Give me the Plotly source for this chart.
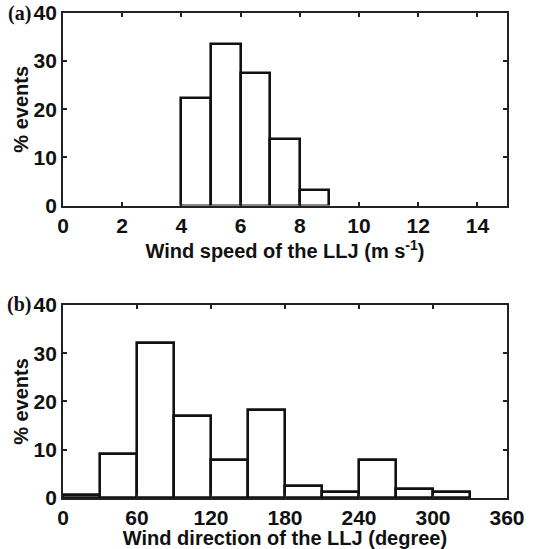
import plotly.graph_objects as go
from plotly.subplots import make_subplots

# Panel (a): wind speed bins (m/s)
speed_bin_left = [4, 5, 6, 7, 8]
speed_pct = [22.3, 33.5, 27.6, 13.9, 3.3]

# Panel (b): wind direction bins (degree)
dir_bin_left = [0, 30, 60, 90, 120, 150, 180, 210, 240, 270, 300]
dir_pct = [0.7, 9.1, 32.2, 17.0, 7.8, 18.3, 2.5, 1.2, 7.8, 1.8, 1.25]

fig = make_subplots(rows=2, cols=1, vertical_spacing=0.2)

bar_style = dict(marker=dict(color="white", line=dict(color="#111111", width=2.6)),
                 showlegend=False, hoverinfo="skip")

fig.add_trace(go.Bar(x=[v + 0.5 for v in speed_bin_left], y=speed_pct, width=1.0, **bar_style), row=1, col=1)
fig.add_trace(go.Bar(x=[v + 15 for v in dir_bin_left], y=dir_pct, width=30, **bar_style), row=2, col=1)

FAM = "Liberation Sans, Arial, sans-serif"
font_tick = dict(family=FAM, size=21, color="#111111", weight="bold")
font_title = dict(family=FAM, size=20, color="#111111", weight="bold")

axis_common = dict(showline=True, linecolor="#222222", linewidth=1.8, mirror="ticks",
                   ticks="inside", ticklen=4, tickwidth=1.5, tickcolor="#222222",
                   showgrid=False, zeroline=False, tickfont=font_tick, automargin=False)

fig.update_xaxes(range=[0, 15], tickvals=[0, 2, 4, 6, 8, 10, 12, 14],
                 title=dict(text="Wind speed of the LLJ (m s<sup>-1</sup>)", font=font_title, standoff=2),
                 **axis_common, row=1, col=1)
fig.update_xaxes(range=[0, 360], tickvals=[0, 60, 120, 180, 240, 300, 360],
                 title=dict(text="Wind direction of the LLJ (degree)", font=font_title, standoff=0),
                 **axis_common, row=2, col=1)
for r in (1, 2):
    fig.update_yaxes(range=[0, 40], tickvals=[0, 10, 20, 30, 40],
                     title=dict(text="% events", font=font_title, standoff=0),
                     **axis_common, row=r, col=1)

fig.update_layout(
    width=549, height=549,
    margin=dict(l=63, r=42, t=13, b=51, autoexpand=False),
    plot_bgcolor="white", paper_bgcolor="white",
    bargap=0,
    font=dict(family=FAM, size=20, color="#111111"),
)
fig.update_layout(yaxis=dict(domain=[0.603, 1.0]), yaxis2=dict(domain=[0.0, 0.398]))

for label, yv in (("(a)", 1.0), ("(b)", 0.398)):
    fig.add_annotation(text=label, xref="paper", yref="paper",
                       x=-0.068, y=yv, xanchor="right", yanchor="middle", showarrow=False,
                       font=dict(family="Liberation Serif, Times New Roman, serif", size=20,
                                 color="#111111", weight="bold"))

fig.write_html("out.html")
